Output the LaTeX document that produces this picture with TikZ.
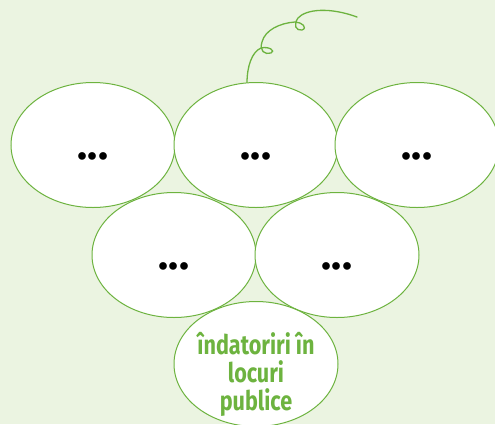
\documentclass[tikz,border=0pt]{standalone}
\usepackage{fontspec}
\setmainfont{Fira Sans}
\usetikzlibrary{shapes.geometric}
\definecolor{leafgreen}{HTML}{6DB33F}
\definecolor{bggreen}{HTML}{EBF4E1}
\newfontfamily\grapefont[FakeStretch=0.8]{Fira Sans}
\begin{document}
\begin{tikzpicture}[x=1pt,y=-1pt]
	\tikzstyle{grape}=[ellipse,draw=leafgreen,fill=white,line width=1pt,
		minimum width=164pt,minimum height=125pt,inner sep=0pt]
	\tikzstyle{dots}=[grape,font=\bfseries\fontsize{42}{42}\selectfont,text height=28pt,text depth=0pt]
	\fill[bggreen] (0,0) rectangle (495,424);
	\useasboundingbox (0,0) rectangle (495,424);
	% tendril
	\draw[leafgreen,line width=1.3pt,line cap=round]
		(247,83) .. controls (247,66) and (252,52) .. (261,48)
		.. controls (269,46) and (276,51) .. (271,53)
		.. controls (265,55) and (259,51) .. (262,42)
		.. controls (265,30) and (280,23) .. (295,22)
		.. controls (302,22) and (308,28) .. (302,30)
		.. controls (296,31) and (293,25) .. (298,18)
		.. controls (306,9) and (330,7) .. (357,17);
	% top row
	\node[dots] (g1) at (93,145) {...};
	\node[dots] (g2) at (256,145) {...};
	\node[dots] (g3) at (417,145) {...};
	% middle row
	\node[dots] (g4) at (174,255) {...};
	\node[dots] (g5) at (337,255) {...};
	% bottom
	\node[grape] (g6) at (256,364) {};
	\node[text=leafgreen,align=center,inner sep=0pt,
		font=\grapefont\bfseries\fontsize{27}{28}\selectfont] (g6text) at (256,374)
		{îndatoriri în\\locuri\\publice};
\end{tikzpicture}
\end{document}
